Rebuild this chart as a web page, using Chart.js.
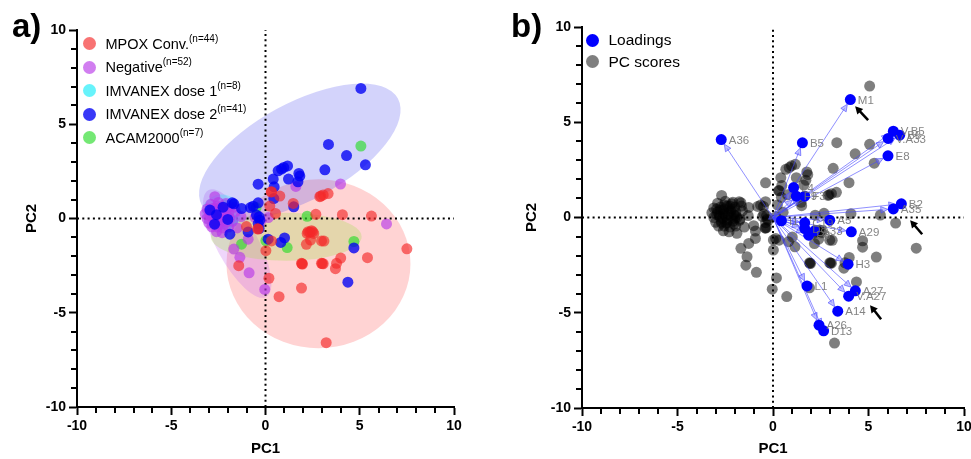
<!DOCTYPE html>
<html>
<head>
<meta charset="utf-8">
<title>PCA</title>
<script src="https://cdn.jsdelivr.net/npm/chart.js@4.4.1/dist/chart.umd.min.js"></script>
<style>
  body { margin: 0; width: 971px; height: 459px; background: #fff; position: relative; overflow: hidden;
         font-family: 'Liberation Sans', Arial, sans-serif; }
  canvas { position: absolute; top: 0; }
  #chartA { left: 0; }
  #chartB { left: 485px; }
  .panel { position: absolute; top: 10px; font-size: 33px; line-height: 32px; font-weight: bold; color: #000; }
  .row { position: absolute; height: 24px; line-height: 24px; white-space: nowrap; color: #000; }
  .dot { position: absolute; left: 0; top: 5.5px; width: 13px; height: 13px; border-radius: 50%; }
  .row sup { font-size: 10px; position: relative; top: -7px; vertical-align: baseline; line-height: 0; }
</style>
</head>
<body>
<canvas id="chartA" width="485" height="459"></canvas>
<canvas id="chartB" width="490" height="459"></canvas>
<div class="panel" style="left:12px">a)</div>
<div class="panel" style="left:511px">b)</div>
<div id="legendA"></div>
<div id="legendB"></div>

<script>
// ============================= data section

const axisTicks = [-10, -5, 0, 5, 10];

const groupNames = ['MPOX Conv.', 'Negative', 'IMVANEX dose 1', 'IMVANEX dose 2', 'ACAM2000'];
const groupCounts = ['(n=44)', '(n=52)', '(n=8)', '(n=41)', '(n=7)'];

// PC1 / PC2 scores per group
const mpox = [
  [0.32, 1.42], [0.76, 1.19], [0.23, 0.66], [0.53, 0.27], [1.47, 0.80], [2.88, 1.16], [3.06, 1.25],
  [3.32, 1.32], [2.67, 0.22], [4.08, 0.20], [5.62, 0.13], [-1.01, -0.43], [-0.39, -0.56], [0.32, -1.19],
  [0.02, -1.71], [0.18, -3.17], [0.72, -4.15], [1.91, -3.69], [3.22, -6.59], [-1.42, -2.50], [2.26, -0.70],
  [2.44, -0.65], [2.56, -0.79], [2.21, -0.79], [2.39, -1.14], [2.97, -1.19], [2.17, -1.37], [1.91, -2.38],
  [1.96, -2.42], [2.97, -2.38], [3.06, -2.40], [3.99, -2.10], [3.77, -2.38], [3.71, -2.66], [5.41, -2.08],
  [7.50, -1.61], [2.35, -0.72], [3.01, -2.39], [1.94, -2.40], [2.93, 1.19], [-0.42, -0.55], [2.50, -0.70],
  [0.30, 1.40], [3.10, -1.20]
];
const negative = [
  [3.98, 1.83], [6.42, -0.29], [1.61, 1.70], [-0.92, -1.10], [-1.68, -1.62], [-1.36, -2.06], [-0.87, -2.88],
  [-0.04, -3.76], [-2.69, 1.16], [-0.55, 0.05], [-0.25, -0.15], [0.15, 0.05],
  [-2.90, 0.75], [-2.50, 0.85], [-2.10, 0.80], [-3.10, 0.50], [-2.75, 0.55], [-2.40, 0.60], [-2.00, 0.55],
  [-1.65, 0.60], [-3.20, 0.25], [-2.90, 0.30], [-2.60, 0.35], [-2.30, 0.30], [-1.95, 0.30], [-1.60, 0.35],
  [-3.10, 0.00], [-2.80, 0.05], [-2.50, 0.10], [-2.20, 0.05], [-1.90, 0.00], [-3.00, -0.25], [-2.70, -0.20],
  [-2.40, -0.15], [-2.10, -0.20], [-1.75, -0.15], [-2.85, -0.45], [-2.55, -0.45], [-2.25, -0.50], [-1.95, -0.45],
  [-2.60, -0.70], [-2.30, -0.75], [-2.95, 0.15], [-2.65, -0.05], [-2.35, 0.15], [-2.05, 0.15], [-2.75, 0.40],
  [-2.45, -0.30], [-2.15, 0.45], [-2.55, 0.65], [-1.50, -0.50], [-1.30, 0.10]
];
const imvanex1 = [
  [-1.95, 0.10], [-1.72, -0.08], [-2.55, 0.45], [-2.20, 0.35], [-2.16, 0.72], [-2.40, -0.25], [-2.05, -0.35],
  [-2.80, 0.10]
];
const imvanex2 = [
  [5.06, 6.90], [3.34, 3.93], [4.30, 3.34], [5.30, 2.85], [3.15, 2.58], [0.97, 2.71], [1.17, 2.79],
  [0.67, 2.53], [0.85, 2.62], [0.41, 2.09], [1.22, 2.09], [1.77, 2.39], [1.82, 2.25], [1.72, 1.95],
  [0.46, 1.68], [-0.39, 1.82], [0.44, 1.06], [1.50, 0.62], [-1.77, 0.83], [-1.68, 0.78], [-1.27, 0.53],
  [-0.80, 0.58], [-0.65, 0.65], [-0.39, 0.83], [-0.48, 0.18], [-0.34, 0.09], [-0.30, -0.09], [-0.39, -0.27],
  [-1.89, -0.83], [-0.92, -0.71], [0.14, -1.10], [0.81, -1.27], [1.01, -1.03], [4.69, -1.56], [4.37, -3.38],
  [-0.34, -0.53], [-2.95, 0.45], [-2.60, 0.20], [-2.25, 0.60], [-2.00, -0.05], [-2.70, -0.30]
];
const acam = [
  [5.06, 3.84], [2.21, 0.12], [-0.50, 0.58], [-1.27, -1.36], [0.02, -1.18], [1.15, -1.54], [4.69, -1.22]
];

// group ellipses: centre x, centre y, semi axis a, semi axis b, angle (deg)
const mpoxEllipse = [2.81, -2.40, 4.88, 4.48, 0];
const negativeEllipse = [-1.50, -1.33, 3.22, 1.10, -61.5];
const imvanex1Ellipse = [-2.33, 0.30, 1.06, 0.97, 0];
const imvanex2Ellipse = [1.82, 3.54, 5.92, 2.58, 28.5];
const acamEllipse = [1.10, -0.97, 4.00, 1.27, 0];

// loadings (panel b)
const loadingNames = ['M1', 'A36', 'B5', 'V.B5', 'B6', 'V.A33', 'E8', 'B2', 'A35', 'L4', 'F9', 'F3',
  'I1', 'A5', 'C19', 'D8', 'A33', 'E3', 'A29', 'H3', 'A27', 'V.A27', 'A14', 'A26', 'D13', 'L1'];
const loadingX = [4.05, -2.71, 1.54, 6.30, 6.63, 6.03, 6.02, 6.72, 6.30, 1.08, 1.22, 1.66,
  0.44, 2.97, 1.66, 1.66, 2.18, 1.87, 4.10, 3.93, 4.31, 3.96, 3.39, 2.41, 2.65, 1.78];
const loadingY = [6.19, 4.09, 3.92, 4.53, 4.32, 4.15, 3.24, 0.72, 0.45, 1.57, 1.12, 1.12,
  -0.17, -0.14, -0.28, -0.58, -0.70, -0.93, -0.75, -2.45, -3.85, -4.13, -4.92, -5.65, -5.95, -3.59];

// black pointer arrows in panel b: tail x, tail y, tip x, tip y
const markArrows = [[4.98, 5.11, 4.30, 5.84], [7.81, -0.88, 7.18, -0.14], [5.66, -5.34, 5.08, -4.60]];


// ============================= style section

Chart.defaults.font.family = "'Liberation Sans', Arial, sans-serif";

const groupColors = ['rgba(245,40,40,0.65)', 'rgba(185,57,232,0.65)', 'rgba(22,237,249,0.65)',
  'rgba(0,0,245,0.78)', 'rgba(41,220,41,0.65)'];
const ellipseColors = ['rgba(255,80,80,0.25)', 'rgba(190,90,240,0.25)', 'rgba(60,230,250,0.35)',
  'rgba(80,80,240,0.25)', 'rgba(170,220,90,0.32)'];


// ============================= helpers

function pointSet(label, pts, color) {
  return {
    label: label,
    data: pts.map(p => ({ x: p[0], y: p[1] })),
    backgroundColor: color,
    borderWidth: 0,
    pointRadius: 5.5,
    pointHoverRadius: 5.5
  };
}

function zeroLine(pts) {
  return {
    data: pts,
    showLine: true,
    borderColor: '#000',
    borderWidth: 2,
    borderDash: [2, 3.3],
    pointRadius: 0,
    fill: false
  };
}

function axis(pos, size, titlePad) {
  return {
    type: 'linear',
    position: pos,
    min: axisTicks[0],
    max: axisTicks[axisTicks.length - 1],
    afterBuildTicks: s => { s.ticks = axisTicks.map(v => ({ value: v })); },
    afterFit: s => { if (pos === 'left') s.width = size; else s.height = size; },
    grid: { display: true, drawOnChartArea: false, drawTicks: true, tickLength: 8, tickWidth: 2, tickColor: '#000' },
    border: { display: true, color: '#000', width: 2 },
    ticks: { color: '#000', font: { size: 14, weight: 'bold' }, padding: 3, maxRotation: 0 },
    title: {
      display: true, text: pos === 'left' ? 'PC2' : 'PC1', color: '#000',
      font: { size: 15, weight: 'bold' }, padding: titlePad
    }
  };
}

// small ticks between the labelled ones
const minorTicks = {
  id: 'minorTicks',
  afterDraw(chart) {
    const { ctx, chartArea, scales: { x, y } } = chart;
    ctx.save();
    ctx.strokeStyle = '#000';
    ctx.lineWidth = 2;
    ctx.beginPath();
    for (let v = -9; v <= 9; v++) {
      if (v % 5 === 0) continue;
      const px = Math.round(x.getPixelForValue(v));
      ctx.moveTo(px, chartArea.bottom + 1);
      ctx.lineTo(px, chartArea.bottom + 6);
      const py = Math.round(y.getPixelForValue(v));
      ctx.moveTo(chartArea.left - 1, py);
      ctx.lineTo(chartArea.left - 6, py);
    }
    ctx.stroke();
    ctx.restore();
  }
};

function ellipsePlugin(list, colors) {
  return {
    id: 'ellipses',
    beforeDatasetsDraw(chart) {
      const { ctx, chartArea, scales: { x, y } } = chart;
      const sx = x.getPixelForValue(1) - x.getPixelForValue(0);
      const sy = y.getPixelForValue(0) - y.getPixelForValue(1);
      ctx.save();
      ctx.beginPath();
      ctx.rect(chartArea.left, chartArea.top, chartArea.width, chartArea.height);
      ctx.clip();
      list.forEach((e, i) => {
        ctx.save();
        ctx.translate(x.getPixelForValue(e[0]), y.getPixelForValue(e[1]));
        ctx.scale(sx, -sy);
        ctx.rotate(e[4] * Math.PI / 180);
        ctx.beginPath();
        ctx.ellipse(0, 0, e[2], e[3], 0, 0, 2 * Math.PI);
        ctx.restore();
        ctx.fillStyle = colors[i];
        ctx.fill();
      });
      ctx.restore();
    }
  };
}

function arrowHead(ctx, tx, ty, ang, len, half) {
  const c = Math.cos(ang), s = Math.sin(ang);
  ctx.beginPath();
  ctx.moveTo(tx, ty);
  ctx.lineTo(tx - len * c + half * s, ty - len * s - half * c);
  ctx.lineTo(tx - len * c - half * s, ty - len * s + half * c);
  ctx.closePath();
}

const loadingArrows = {
  id: 'loadingArrows',
  afterDatasetDraw(chart, args) {
    if (args.index !== 1) return; // right after the PC scores
    const { ctx, scales: { x, y } } = chart;
    const ox = x.getPixelForValue(0), oy = y.getPixelForValue(0);
    ctx.save();
    ctx.lineWidth = 1;
    for (let i = 0; i < loadingX.length; i++) {
      const px = x.getPixelForValue(loadingX[i]), py = y.getPixelForValue(loadingY[i]);
      const ang = Math.atan2(py - oy, px - ox);
      const tx = px - 5.5 * Math.cos(ang), ty = py - 5.5 * Math.sin(ang);
      ctx.strokeStyle = 'rgba(70,70,255,0.6)';
      ctx.beginPath();
      ctx.moveTo(ox, oy);
      ctx.lineTo(tx - 5 * Math.cos(ang), ty - 5 * Math.sin(ang));
      ctx.stroke();
      arrowHead(ctx, tx, ty, ang, 7, 3.2);
      ctx.fillStyle = 'rgba(120,120,255,0.45)';
      ctx.fill();
      ctx.stroke();
    }
    ctx.restore();
  },
  afterDatasetsDraw(chart) {
    const { ctx, scales: { x, y } } = chart;
    ctx.save();
    ctx.font = "11.5px 'Liberation Sans', Arial, sans-serif";
    ctx.fillStyle = 'rgba(110,110,110,0.85)';
    ctx.textBaseline = 'middle';
    for (let i = 0; i < loadingNames.length; i++) {
      ctx.fillText(loadingNames[i], x.getPixelForValue(loadingX[i]) + 7.5, y.getPixelForValue(loadingY[i]) + 1);
    }
    // black pointer arrows
    ctx.strokeStyle = '#000';
    ctx.fillStyle = '#000';
    ctx.lineWidth = 2.5;
    markArrows.forEach(a => {
      const x1 = x.getPixelForValue(a[0]), y1 = y.getPixelForValue(a[1]);
      const x2 = x.getPixelForValue(a[2]), y2 = y.getPixelForValue(a[3]);
      const ang = Math.atan2(y2 - y1, x2 - x1);
      ctx.beginPath();
      ctx.moveTo(x1, y1);
      ctx.lineTo(x2 - 5 * Math.cos(ang), y2 - 5 * Math.sin(ang));
      ctx.stroke();
      arrowHead(ctx, x2, y2, ang, 7.5, 4);
      ctx.fill();
    });
    ctx.restore();
  }
};

function buildLegend(id, left, top, step, size, names, sups, colors) {
  const box = document.getElementById(id);
  names.forEach((n, i) => {
    const row = document.createElement('div');
    row.className = 'row';
    row.style.left = left + 'px';
    row.style.top = (top + i * step - 12) + 'px';
    row.style.fontSize = size + 'px';
    row.style.paddingLeft = '23px';
    row.innerHTML = '<span class="dot" style="background:' + colors[i] + '"></span>' + n +
      (sups[i] ? '<sup>' + sups[i] + '</sup>' : '');
    box.appendChild(row);
  });
}


// ============================= panel a

const commonOptions = {
  responsive: false,
  animation: false,
  events: [],
  plugins: { legend: { display: false }, tooltip: { enabled: false } }
};

const zeroH = [{ x: axisTicks[0], y: 0 }, { x: axisTicks[4], y: 0 }];
const zeroV = [{ x: 0, y: axisTicks[0] }, { x: 0, y: axisTicks[4] }];

// first dataset ends up on top
new Chart(document.getElementById('chartA').getContext('2d'), {
  type: 'scatter',
  data: {
    datasets: [
      pointSet(groupNames[0], mpox, groupColors[0]),
      pointSet(groupNames[3], imvanex2, groupColors[3]),
      pointSet(groupNames[1], negative, groupColors[1]),
      pointSet(groupNames[2], imvanex1, groupColors[2]),
      pointSet(groupNames[4], acam, groupColors[4]),
      zeroLine(zeroH),
      zeroLine(zeroV)
    ]
  },
  options: Object.assign({}, commonOptions, {
    layout: { padding: { left: 0, top: 30, right: 31, bottom: 0 } },
    scales: {
      x: axis('bottom', 52, { top: 0, bottom: 1 }),
      y: axis('left', 77, { top: 23, bottom: 0 })
    }
  }),
  plugins: [ellipsePlugin([mpoxEllipse, negativeEllipse, acamEllipse, imvanex2Ellipse, imvanex1Ellipse],
    [ellipseColors[0], ellipseColors[1], ellipseColors[4], ellipseColors[3], ellipseColors[2]]), minorTicks]
});

buildLegend('legendA', 82.5, 43.5, 23.5, 14.5, groupNames, groupCounts, groupColors);


// ============================= panel b

const scores = mpox.concat(negative, imvanex1, imvanex2, acam);
const loadingPts = loadingX.map((v, i) => [v, loadingY[i]]);

new Chart(document.getElementById('chartB').getContext('2d'), {
  type: 'scatter',
  data: {
    datasets: [
      pointSet('Loadings', loadingPts, '#0000ff'),
      pointSet('PC scores', scores, 'rgba(0,0,0,0.5)'),
      zeroLine(zeroH),
      zeroLine(zeroV)
    ]
  },
  options: Object.assign({}, commonOptions, {
    layout: { padding: { left: 20, top: 27, right: 11, bottom: 0 } },
    scales: {
      x: axis('bottom', 51, { top: 0, bottom: 1 }),
      y: axis('left', 77, { top: 18, bottom: 0 })
    }
  }),
  plugins: [loadingArrows, minorTicks]
});

buildLegend('legendB', 585.5, 40, 21.7, 15.5, ['Loadings', 'PC scores'], ['', ''], ['#0000ff', 'rgba(0,0,0,0.5)']);
</script>
</body>
</html>
